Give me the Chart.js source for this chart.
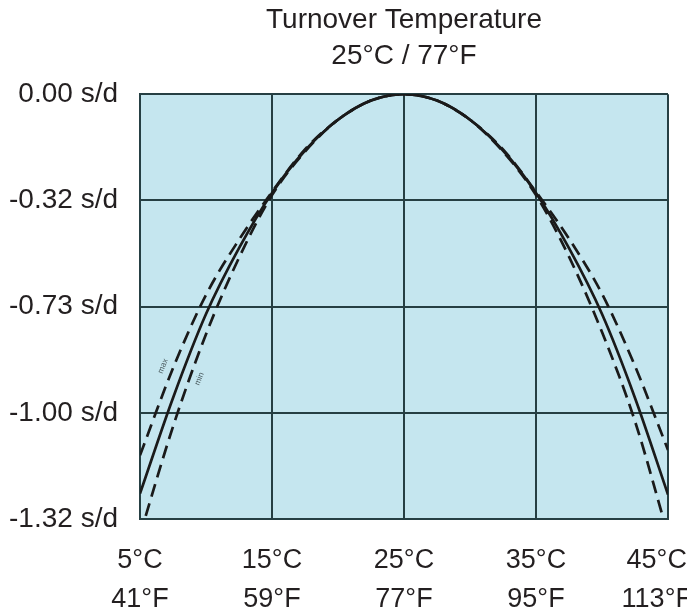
<!DOCTYPE html>
<html>
<head>
<meta charset="utf-8">
<script src="https://cdn.jsdelivr.net/npm/chart.js@4/dist/chart.umd.min.js"></script>
<style>
  html, body { margin: 0; padding: 0; background: #fff; }
  #turnover-canvas { display: block; }
</style>
</head>
<body>
<canvas id="turnover-canvas" width="687" height="616"></canvas>
<script>
var tempC = [5, 7.5, 10, 12.5, 15, 17.5, 20, 22.5, 25, 27.5, 30, 32.5, 35, 37.5, 40, 42.5, 45];

// rate deviation, in grid steps below the turnover point (0 = top line, -4 = bottom line)
var rateNominal = [-3.76, -2.86, -2.07, -1.45, -0.93, -0.53, -0.24, -0.06, 0, -0.06, -0.24, -0.53, -0.93, -1.45, -2.07, -2.86, -3.77];
var rateMax = [-3.40, -2.58, -1.89, -1.37, -0.92, -0.52, -0.24, -0.06, 0, -0.06, -0.24, -0.52, -0.92, -1.36, -1.88, -2.56, -3.35];
var rateMin = [-4.15, -3.13, -2.26, -1.54, -0.95, -0.54, -0.24, -0.06, 0, -0.06, -0.24, -0.54, -0.95, -1.53, -2.24, -3.08, -4.15];

// tick labels (the last x label is pulled in from the page edge with trailing spaces)
var yTickLabels = ["0.00 s/d", "-0.32 s/d", "-0.73 s/d", "-1.00 s/d", "-1.32 s/d"];
var xTickC = ["5°C", "15°C", "25°C", "35°C", "45°C   "];
var xTickF = ["41°F", "59°F", "77°F", "95°F", "113°F   "];
var titleLines = ["Turnover Temperature", "25°C / 77°F"];

var FONT = "'Liberation Sans', Arial, sans-serif";
var TEXT = "#231f20";
var GRID = "#263f43";

function points(ys) {
    return tempC.map(function (t, i) { return { x: t, y: ys[i] }; });
}

// light blue plot background
var plotBackground = {
    id: "plotBackground",
    beforeDraw: function (chart) {
        var a = chart.chartArea, ctx = chart.ctx;
        ctx.save();
        ctx.fillStyle = "#c5e6ef";
        ctx.fillRect(a.left, a.top, a.right - a.left, a.bottom - a.top);
        ctx.restore();
    }
};

// tiny "max" / "min" notes written along the curves
var curveNotes = {
    id: "curveNotes",
    afterDatasetsDraw: function (chart) {
        var xs = chart.scales.x, ys = chart.scales.y, ctx = chart.ctx;
        var notes = [["max", 6.75, -2.56], ["min", 9.5, -2.68]];
        ctx.save();
        ctx.fillStyle = "#4a5a5e";
        ctx.font = "8px " + FONT;
        ctx.textAlign = "center";
        ctx.textBaseline = "middle";
        notes.forEach(function (n) {
            ctx.save();
            ctx.translate(xs.getPixelForValue(n[1]), ys.getPixelForValue(n[2]));
            ctx.rotate(-68 * Math.PI / 180);
            ctx.fillText(n[0], 0, 0);
            ctx.restore();
        });
        ctx.restore();
    }
};

var lineBase = {
    borderColor: "#1a1a1a",
    borderWidth: 2.7,
    pointRadius: 0,
    fill: false,
    cubicInterpolationMode: "monotone",
    clip: 0
};

var turnoverData = {
    datasets: [
        Object.assign({ label: "max", data: points(rateMax), borderDash: [13, 7] }, lineBase),
        Object.assign({ label: "min", data: points(rateMin), borderDash: [13, 7] }, lineBase),
        Object.assign({ label: "nominal", data: points(rateNominal) }, lineBase)
    ]
};

var turnoverOptions = {
    responsive: false,
    animation: false,
    layout: { padding: { left: 0, right: 19, top: 0, bottom: 0 } },
    plugins: {
        legend: { display: false },
        tooltip: { enabled: false },
        title: {
            display: true,
            fullSize: false,
            text: titleLines,
            color: TEXT,
            font: { family: FONT, size: 28, weight: "normal", lineHeight: 1.29 },
            padding: { top: 2, bottom: 20 }
        }
    },
    scales: {
        x: {
            type: "linear",
            min: 5,
            max: 45,
            grid: { color: GRID, lineWidth: 2, drawTicks: false },
            border: { color: GRID, width: 2 },
            ticks: {
                stepSize: 10,
                padding: 22,
                color: TEXT,
                maxRotation: 0,
                font: { family: FONT, size: 27, lineHeight: 1.44 },
                callback: function (v) {
                    var i = Math.round((v - 5) / 10);
                    return [xTickC[i], xTickF[i]];
                }
            },
            afterFit: function (scale) {
                scale.height = 97;
                scale.paddingLeft = 0;
                scale.paddingRight = 0;
            }
        },
        y: {
            type: "linear",
            min: -4,
            max: 0,
            grid: { color: GRID, lineWidth: 2, drawTicks: false },
            border: { color: GRID, width: 2 },
            ticks: {
                stepSize: 1,
                padding: 22,
                color: TEXT,
                font: { family: FONT, size: 28 },
                callback: function (v) {
                    return yTickLabels[Math.round(-v)];
                }
            },
            afterFit: function (scale) {
                scale.width = 140;
                scale.paddingTop = 0;
                scale.paddingBottom = 0;
            }
        }
    }
};

var turnoverElement = document.getElementById("turnover-canvas");
var turnoverChart = new Chart(turnoverElement, {
    type: "line",
    data: turnoverData,
    options: turnoverOptions,
    plugins: [plotBackground, curveNotes]
});
</script>
</body>
</html>
